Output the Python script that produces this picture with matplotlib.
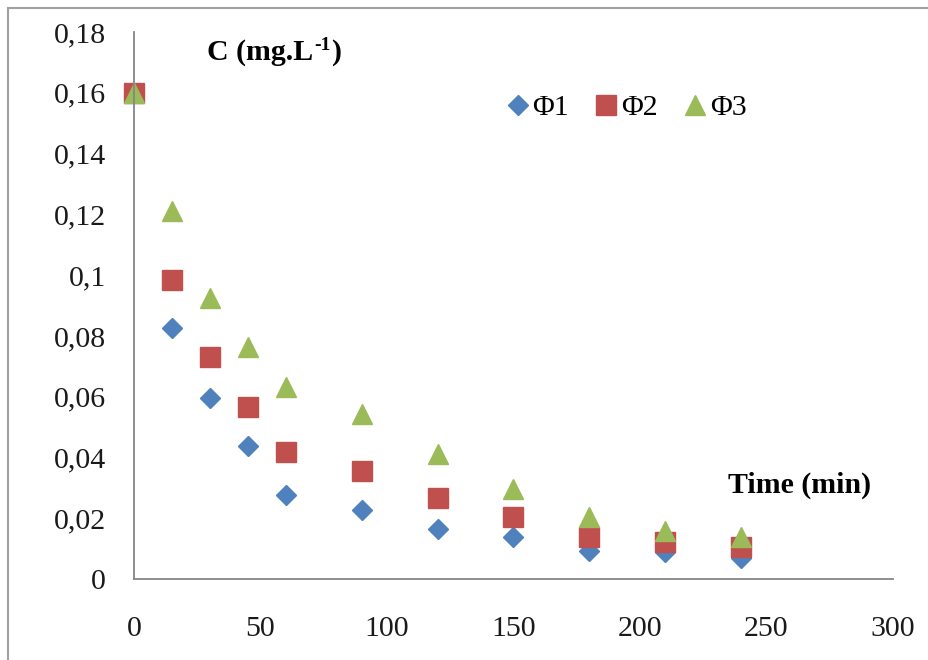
import matplotlib
matplotlib.use('Agg')
import matplotlib.pyplot as plt
from matplotlib.ticker import FuncFormatter
from matplotlib.patches import Rectangle

# data
time = [0, 15, 30, 45, 60, 90, 120, 150, 180, 210, 240]
phi1 = [0.160, 0.0826, 0.0596, 0.0437, 0.0276, 0.0227, 0.0163, 0.0138, 0.0091, 0.0090, 0.0070]
phi2 = [0.160, 0.0984, 0.0731, 0.0567, 0.0417, 0.0356, 0.0267, 0.0204, 0.0138, 0.0123, 0.0105]
phi3 = [0.160, 0.1210, 0.0925, 0.0762, 0.0631, 0.0542, 0.0411, 0.0296, 0.0204, 0.0158, 0.0138]
labels = ['\u03a61', '\u03a62', '\u03a63']

plt.rcParams['font.family'] = ['Liberation Serif', 'DejaVu Serif']
plt.rcParams['font.size'] = 21.5

fig = plt.figure(figsize=(9.29, 6.6), dpi=100)
ax = fig.add_axes([134/929, 1-579/660, (893-134)/929, (579-32)/660])

ax.plot(time, phi1, 'D', color='#4F81BD', markersize=10.5, label=labels[0], clip_on=False)
ax.plot(time, phi2, 's', color='#C0504D', markersize=14, label=labels[1], clip_on=False)
ax.plot(time, phi3, '^', color='#9BBB59', markersize=14.5, label=labels[2], clip_on=False)

ax.set_xlim(0, 300)
ax.set_ylim(0, 0.18)
ax.set_xticks(range(0, 301, 50))
ax.set_yticks([i * 0.02 for i in range(10)])
ax.yaxis.set_major_formatter(FuncFormatter(lambda v, p: ('%g' % round(v, 2)).replace('.', ',')))
ax.tick_params(length=0, colors='#1a1a1a')
ax.tick_params(axis='y', pad=20)
ax.tick_params(axis='x', pad=27)

for s in ['top', 'right']:
    ax.spines[s].set_visible(False)
for s in ['left', 'bottom']:
    ax.spines[s].set_color('#868686')
    ax.spines[s].set_linewidth(1.3)

# y label: "C (mg.L" + superscript "-1" + ")"
t1 = fig.text(207/929, 1-53/660, 'C (mg.L', fontweight='bold', va='center', ha='left')
fig.canvas.draw()
bb = t1.get_window_extent()
t2 = fig.text(bb.x1/929 + 0.001, 1-45/660, '-1', fontweight='bold', fontsize=14, va='center', ha='left')
bb2 = t2.get_window_extent()
fig.text(bb2.x1/929 + 0.001, 1-53/660, ')', fontweight='bold', va='center', ha='left')

fig.text(728/929, 1-485/660, 'Time (min)', fontweight='bold', va='center', ha='left')

ax.legend(loc='center', bbox_to_anchor=(627/929, 1-108/660), bbox_transform=fig.transFigure,
          ncol=3, frameon=False, handlelength=0.7, handletextpad=0.15,
          columnspacing=0.9, borderpad=0, fontsize=21.5)

fig.patches.append(Rectangle((8/929, -0.1), 1.2, 1.1 - 8/660, transform=fig.transFigure,
                             fill=False, edgecolor='#A0A0A0', linewidth=1.5))

fig.savefig('out.png', dpi=100)
